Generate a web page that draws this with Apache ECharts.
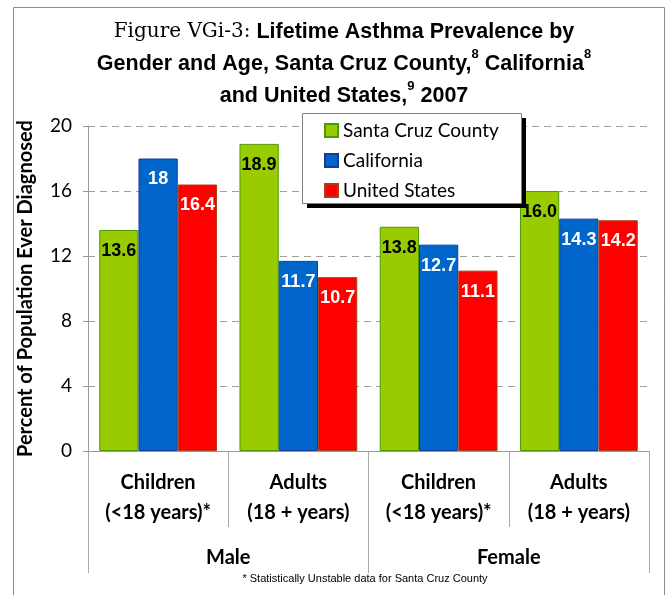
<!DOCTYPE html>
<html><head><meta charset="utf-8">
<script src="https://cdn.jsdelivr.net/npm/echarts@6/dist/echarts.min.js"></script>
<style>html,body{margin:0;padding:0;background:#fff}#c{width:668px;height:595px}</style>
</head><body><div id="c"></div>
<script>
const categories = ['Children\n(<18 years)*', 'Adults\n(18 + years)', 'Children\n(<18 years)*', 'Adults\n(18 + years)'];
const genders = ['Male', 'Female'];
const seriesNames = ['Santa Cruz County', 'California', 'United States'];
const santaCruz = [13.6, 18.9, 13.8, 16.0];
const california = [18, 11.7, 12.7, 14.3];
const unitedStates = [16.4, 10.7, 11.1, 14.2];
const santaCruzLabels = ['13.6', '18.9', '13.8', '16.0'];
const californiaLabels = ['18', '11.7', '12.7', '14.3'];
const unitedStatesLabels = ['16.4', '10.7', '11.1', '14.2'];
const yMin = 0, yMax = 20, yStep = 4;
const footnote = '* Statistically Unstable data for Santa Cruz County';

const LATO = 'Lato, "Open Sans", sans-serif';
const ARIAL = '"Liberation Sans", Arial, sans-serif';

function mkSeries(name, data, labels, fill, border, labelColor) {
  return {
    name: name, type: 'bar', data: data,
    xAxisIndex: 0, yAxisIndex: 0,
    barGap: '0%', barCategoryGap: '16%',
    itemStyle: { color: fill, borderColor: border, borderWidth: 1 },
    label: {
      show: true, position: 'insideTop', distance: 12,
      formatter: p => labels[p.dataIndex],
      color: labelColor, fontFamily: ARIAL, fontWeight: 'bold', fontSize: 18
    },
    z: 2
  };
}

const chart = echarts.init(document.getElementById('c'), null, { renderer: 'canvas' });
chart.setOption({
  animation: false,
  backgroundColor: '#fff',
  grid: { left: 88, right: 19, top: 126, bottom: 144, containLabel: false },
  legend: {
    orient: 'vertical', left: 324, top: 121, z: 10,
    itemWidth: 13, itemHeight: 13, itemGap: 11, icon: 'rect',
    padding: 0,
    textStyle: { fontFamily: LATO, fontSize: 19, color: '#000' },
    data: seriesNames
  },
  xAxis: [
    {
      type: 'category', data: categories, position: 'bottom',
      axisLine: { show: true, lineStyle: { color: '#9a9a9a', width: 1 } },
      axisTick: { show: true, interval: 0, length: 76, lineStyle: { color: '#a8a8a8' } },
      axisLabel: { interval: 0, margin: 17, fontFamily: LATO, fontWeight: 'bold', fontSize: 20, lineHeight: 30, color: '#000' },
      splitLine: { show: false }
    },
    {
      type: 'category', data: genders, position: 'bottom',
      axisLine: { show: false },
      axisTick: { show: true, interval: 0, length: 122, lineStyle: { color: '#a8a8a8' } },
      axisLabel: { interval: 0, margin: 95, fontFamily: LATO, fontWeight: 'bold', fontSize: 20, lineHeight: 24, color: '#000' },
      splitLine: { show: false }
    }
  ],
  yAxis: {
    type: 'value', min: yMin, max: yMax, interval: yStep,
    name: 'Percent of Population Ever Diagnosed', nameLocation: 'middle', nameGap: 52,
    nameTextStyle: { fontFamily: LATO, fontWeight: 'bold', fontSize: 20, color: '#000' },
    axisLine: { show: true, lineStyle: { color: '#9a9a9a' } },
    axisTick: { show: true, length: 5, lineStyle: { color: '#9a9a9a' } },
    axisLabel: { margin: 16, fontFamily: LATO, fontSize: 19, color: '#000' },
    splitLine: { show: true, lineStyle: { color: '#a0a0a0', type: [7, 5], width: 1 } }
  },
  series: [
    mkSeries(seriesNames[0], santaCruz, santaCruzLabels, '#99CC00', '#4E9A06', '#000'),
    mkSeries(seriesNames[1], california, californiaLabels, '#0066CC', '#1A3A9A', '#fff'),
    mkSeries(seriesNames[2], unitedStates, unitedStatesLabels, '#FF0000', '#A8401E', '#fff')
  ],
  graphic: [
    { type: 'rect', z: -1, silent: true, shape: { x: 13.5, y: 7.5, width: 651, height: 620 },
      style: { fill: null, stroke: '#8c8c8c', lineWidth: 1 } },
    { type: 'rect', z: 8, silent: true, shape: { x: 307, y: 118, width: 219, height: 90 },
      style: { fill: '#000' } },
    { type: 'rect', z: 9, silent: true, shape: { x: 302.5, y: 113.5, width: 219, height: 90 },
      style: { fill: '#fff', stroke: '#808080', lineWidth: 1 } },
    { type: 'text', z: 10, silent: true, x: 344, y: 16,
      style: {
        text: '{s|Figure VGi-3:}{b| Lifetime Asthma Prevalence by}\n{b|Gender and Age, Santa Cruz County,}{sup|8}{b| California}{sup|8}\n{b|and United States,}{sup|9}{b| 2007}',
        align: 'center', verticalAlign: 'top',
        rich: {
          s: { fontFamily: '"DejaVu Serif", "Liberation Serif", serif', fontSize: 20, lineHeight: 32, fill: '#000' },
          b: { fontFamily: ARIAL, fontWeight: 'bold', fontSize: 21.5, lineHeight: 32, fill: '#000' },
          sup: { fontFamily: ARIAL, fontWeight: 'bold', fontSize: 13, lineHeight: 20, verticalAlign: 'top', fill: '#000' }
        }
      } },
    { type: 'text', z: 10, silent: true, x: 365, y: 579,
      style: { text: footnote, align: 'center', verticalAlign: 'middle', fontFamily: ARIAL, fontSize: 11, fill: '#000' } }
  ]
});
</script></body></html>
